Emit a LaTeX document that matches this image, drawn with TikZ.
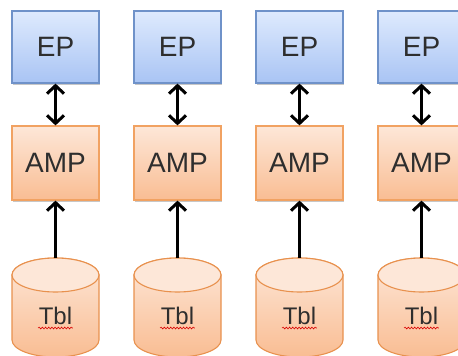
\documentclass[tikz,border=0pt]{standalone}
\usepackage{fontspec}
\setmainfont{Liberation Sans}
\usetikzlibrary{arrows.meta,shadows,decorations.pathmorphing}

\definecolor{epTop}{HTML}{DEEAFD}
\definecolor{epBot}{HTML}{A9C4F4}
\definecolor{epLine}{HTML}{6F92C9}
\definecolor{ampTop}{HTML}{FDE7D8}
\definecolor{ampBot}{HTML}{F9BD93}
\definecolor{ampLine}{HTML}{F1A262}
\definecolor{cylLine}{HTML}{E8914E}
\definecolor{txt}{HTML}{2E2E2E}

\tikzset{
  unitbox/.style={draw, line width=1.2pt, minimum width=87pt, inner sep=0pt,
    text=txt, font=\fontsize{28}{31}\selectfont,
    drop shadow={shadow xshift=1pt, shadow yshift=-1.5pt, opacity=0.22, fill=black}},
  epbox/.style={unitbox, minimum height=72pt, draw=epLine, top color=epTop, bottom color=epBot},
  ampbox/.style={unitbox, minimum height=74pt, draw=ampLine, top color=ampTop, bottom color=ampBot},
  tbllabel/.style={text=txt, font=\fontsize{24}{27}\selectfont, inner sep=0pt},
  link/.style={line width=3pt, black},
  tip/.style={Straight Barb[length=8pt,width=17pt]},
  twoway/.style={link, {Straight Barb[length=8pt,width=17pt]}-{Straight Barb[length=8pt,width=17pt]}},
  oneway/.style={link, -{Straight Barb[length=8pt,width=17pt]}},
  cylbody/.style={draw=cylLine, line width=1.1pt, top color=ampTop, bottom color=ampBot},
  squiggle/.style={red!85!black, line width=0.6pt, decorate,
    decoration={snake, amplitude=0.9pt, segment length=3.2pt}}
}

\begin{document}
\begin{tikzpicture}[x=1pt, y=-1pt]
  \useasboundingbox (0,0) rectangle (458,356);
  \clip (0,0) rectangle (458,356);

  \foreach \i/\cx in {1/55.5, 2/177.5, 3/299.5, 4/421.5} {
    % endpoint and amplifier boxes
    \node[epbox]  (ep\i)  at (\cx,47)  {EP};
    \node[ampbox] (amp\i) at (\cx,163) {AMP};

    % table drum: body with shaded side, then the top rim
    \begin{scope}[shift={(\cx,0)}]
      \draw[cylbody] (-43.5,275) -- (-43.5,340)
        arc[start angle=180, end angle=360, x radius=43.5pt, y radius=17pt]
        -- (43.5,275)
        arc[start angle=0, end angle=180, x radius=43.5pt, y radius=17pt] -- cycle;
      \draw[draw=cylLine, line width=1.1pt, fill=ampTop]
        (0,275) ellipse [x radius=43.5pt, y radius=17pt];
    \end{scope}
    \coordinate (top\i) at (\cx,258);
    \node[tbllabel] (tbl\i) at (\cx,316) {Tbl};
    \draw[squiggle] ([xshift=-0.5pt,yshift=-3pt]tbl\i.south west) -- ([xshift=0.5pt,yshift=-3pt]tbl\i.south east);

    % connectors
    \draw[twoway] (ep\i.south) -- (amp\i.north);
    \draw[oneway] (top\i) -- (amp\i.south);
  }
\end{tikzpicture}
\end{document}
